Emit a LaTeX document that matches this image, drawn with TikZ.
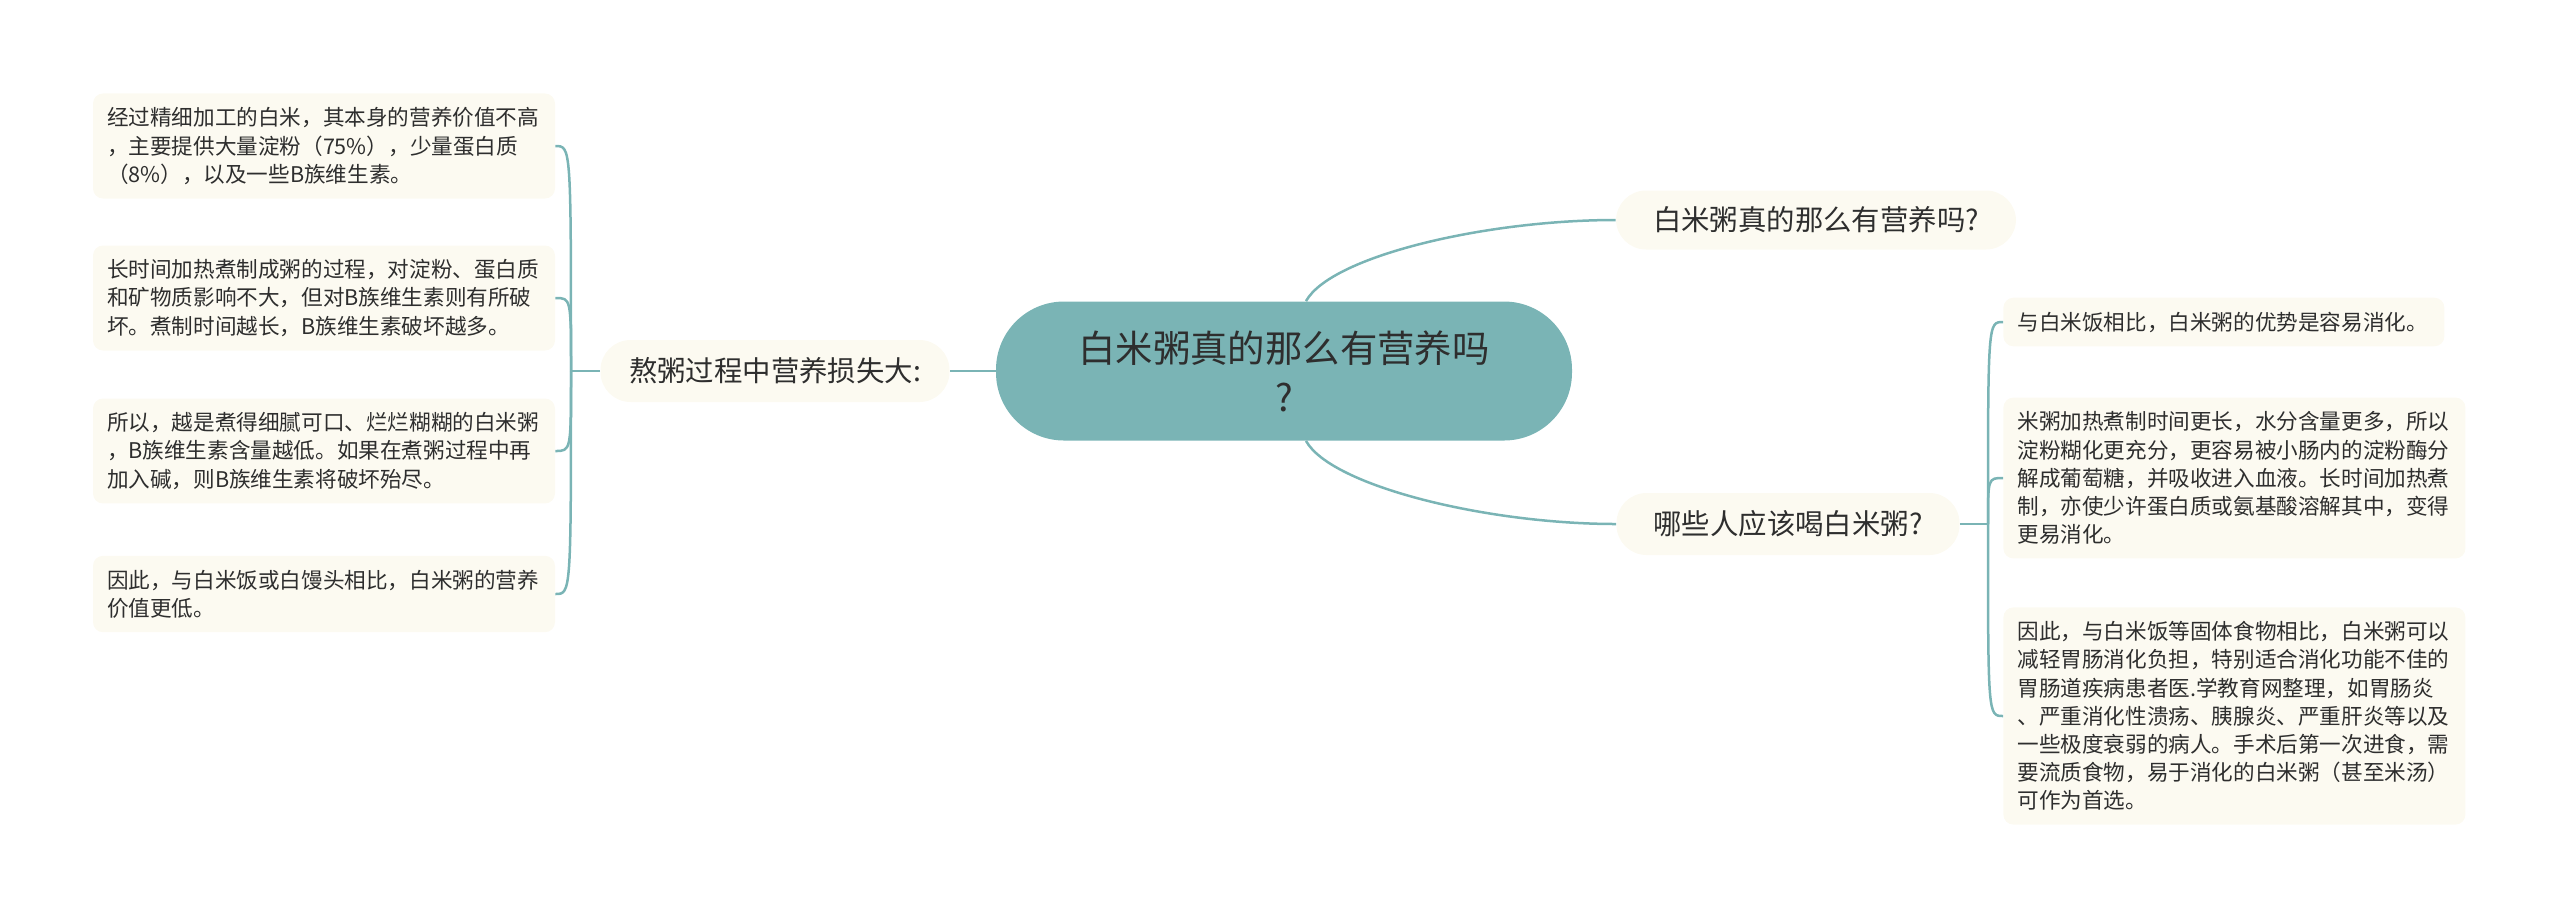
\documentclass[tikz,border=0pt]{standalone}
\usepackage{fontspec}
\setmainfont{Noto Sans CJK SC}
\definecolor{teal1}{HTML}{7AB4B5}
\definecolor{cream}{HTML}{FCFAF1}
\definecolor{ink}{HTML}{2E2E2E}
\tikzset{
  leaf/.style={fill=cream, rounded corners=5pt, inner xsep=7pt, inner ysep=7pt, align=left, text=ink, font=\fontsize{10.8}{14.1}\selectfont},
  branch/.style={fill=cream, rounded corners=15pt, text=ink, font=\fontsize{14.2}{17}\selectfont},
  link/.style={draw=teal1, line width=1.25pt}
}
\begin{document}
\begin{tikzpicture}[x=0.5pt,y=-0.5pt]
\useasboundingbox (0,0) rectangle (2560,923);

\node[fill=teal1, rounded corners=34pt, minimum width=288pt, minimum height=69.5pt, align=center, text=ink, font=\fontsize{18.7}{24.5}\selectfont] (root) at (1284,371) {白米粥真的那么有营养吗\\?};

\node[branch, minimum width=200pt, minimum height=29.5pt] (b1) at (1816,220) {白米粥真的那么有营养吗?};
\node[branch, minimum width=171.5pt, minimum height=31pt] (b2) at (1788,524) {哪些人应该喝白米粥?};
\node[branch, minimum width=174.5pt, minimum height=31pt] (lb) at (775,371) {熬粥过程中营养损失大:};

\node[leaf, text width=217pt] (l1) at (324,146) {经过精细加工的白米，其本身的营养价值不高\\，主要提供大量淀粉（75\%），少量蛋白质\\（8\%），以及一些B族维生素。};
\node[leaf, text width=217pt] (l2) at (324,298) {长时间加热煮制成粥的过程，对淀粉、蛋白质\\和矿物质影响不大，但对B族维生素则有所破\\坏。煮制时间越长，B族维生素破坏越多。};
\node[leaf, text width=217pt] (l3) at (324,451) {所以，越是煮得细腻可口、烂烂糊糊的白米粥\\，B族维生素含量越低。如果在煮粥过程中再\\加入碱，则B族维生素将破坏殆尽。};
\node[leaf, text width=217pt] (l4) at (324,594) {因此，与白米饭或白馒头相比，白米粥的营养\\价值更低。};

\node[leaf, text width=206.5pt, anchor=west] (r1) at (2003,322) {与白米饭相比，白米粥的优势是容易消化。};
\node[leaf, text width=217pt, anchor=west] (r2) at (2003,478) {米粥加热煮制时间更长，水分含量更多，所以\\淀粉糊化更充分，更容易被小肠内的淀粉酶分\\解成葡萄糖，并吸收进入血液。长时间加热煮\\制，亦使少许蛋白质或氨基酸溶解其中，变得\\更易消化。};
\node[leaf, text width=217pt, anchor=west] (r3) at (2003,716) {因此，与白米饭等固体食物相比，白米粥可以\\减轻胃肠消化负担，特别适合消化功能不佳的\\胃肠道疾病患者医.学教育网整理，如胃肠炎\\、严重消化性溃疡、胰腺炎、严重肝炎等以及\\一些极度衰弱的病人。手术后第一次进食，需\\要流质食物，易于消化的白米粥（甚至米汤）\\可作为首选。};

\draw[link] (root.west) -- (lb.east);
\draw[link] ([xshift=11pt]root.north) .. controls +(25,-45) and +(-130,0) .. (b1.west);
\draw[link] ([xshift=11pt]root.south) .. controls +(25,45) and +(-130,0) .. (b2.west);

\coordinate (jl) at (571,371);
\draw[link] (lb.west) -- (jl);
\foreach \i in {1,...,4}{
    \draw[link] (jl) .. controls (jl |- l\i.east) and (jl |- l\i.east) .. (l\i.east);
}

\coordinate (jr) at (1988,524);
\draw[link] (b2.east) -- (jr);
\foreach \i in {1,...,3}{
    \draw[link] (jr) .. controls (jr |- r\i.west) and (jr |- r\i.west) .. (r\i.west);
}
\end{tikzpicture}
\end{document}
